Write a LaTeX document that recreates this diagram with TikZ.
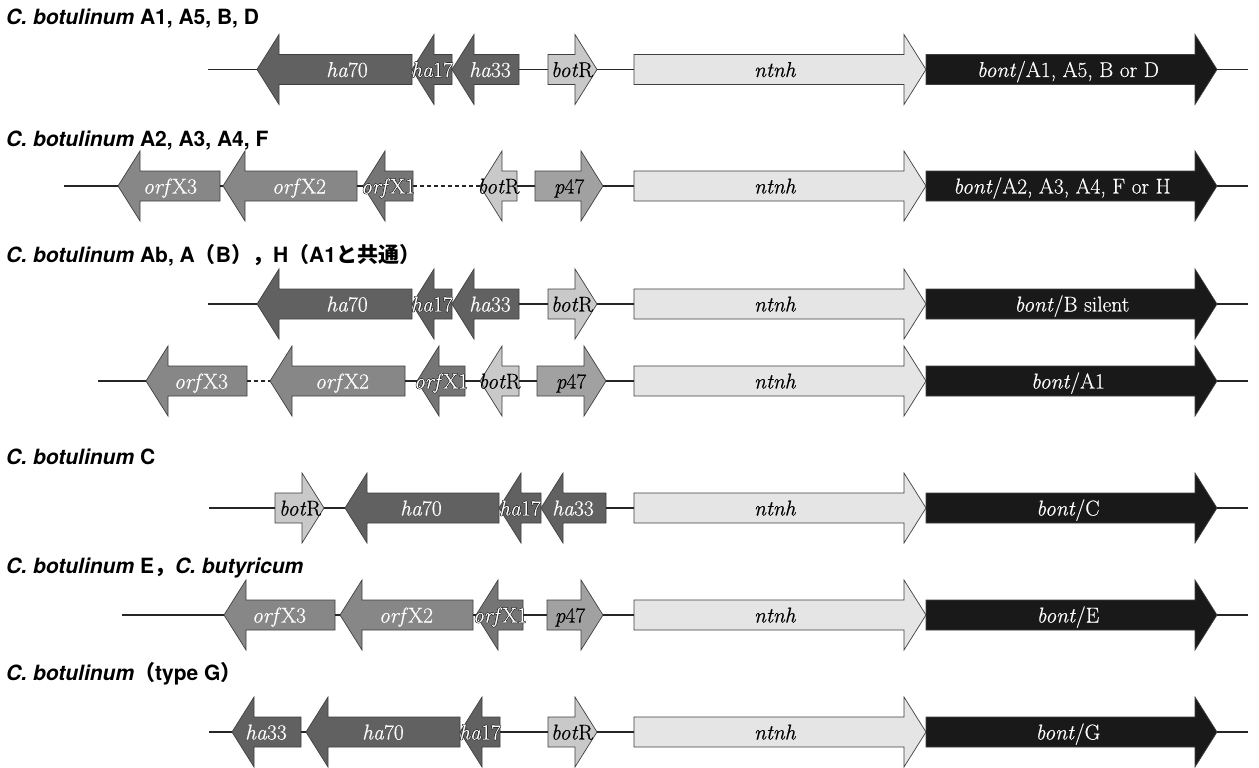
\documentclass[tikz,border=0pt]{standalone}
\usepackage{fontspec}
\setmainfont{Latin Modern Roman}[FakeBold=0.4]
\newfontfamily\headfam{TeX Gyre Heros}
\newfontfamily\cjkfam{Noto Sans CJK JP}
\newcommand\headfont{\headfam\bfseries\fontsize{21}{24}\selectfont}
\newcommand\genefont{\fontsize{21.5}{25}\selectfont}
\newcommand\spname[1]{{\itshape #1}}
\newcommand\cj[1]{{\cjkfam\bfseries #1}}

% white letters with a thin dark rim around them
\newsavebox\halobox
\newcommand\rimtext[1]{%
  \setbox\halobox=\hbox{#1}%
  {\color{black!85}%
   \rlap{\kern.5pt\copy\halobox}\rlap{\kern-.5pt\copy\halobox}%
   \rlap{\raise.5pt\hbox{\copy\halobox}}\rlap{\lower.5pt\hbox{\copy\halobox}}%
   \rlap{\kern.35pt\raise.35pt\hbox{\copy\halobox}}\rlap{\kern-.35pt\raise.35pt\hbox{\copy\halobox}}%
   \rlap{\kern.35pt\lower.35pt\hbox{\copy\halobox}}\rlap{\kern-.35pt\lower.35pt\hbox{\copy\halobox}}}%
  {\color{white}\copy\halobox}}

% arrow geometry: half body height, half head height, head length
\def\bh{15}
\def\hh{35}
\def\hl{22}

% gene pointing right: name, left x, right x, y, kind, label x, label
\newcommand\gright[7]{%
  \path[#5] (#2,#4-\bh) -- (#3-\hl,#4-\bh) -- (#3-\hl,#4-\hh) -- (#3,#4)
    -- (#3-\hl,#4+\hh) -- (#3-\hl,#4+\bh) -- (#2,#4+\bh) -- cycle;
  \coordinate (#1-w) at (#2,#4);
  \coordinate (#1-e) at (#3,#4);
  \node[lbl, #5 text] (#1) at (#6,#4) {#7};}
% gene pointing left
\newcommand\gleft[7]{%
  \path[#5] (#3,#4-\bh) -- (#2+\hl,#4-\bh) -- (#2+\hl,#4-\hh) -- (#2,#4)
    -- (#2+\hl,#4+\hh) -- (#2+\hl,#4+\bh) -- (#3,#4+\bh) -- cycle;
  \coordinate (#1-w) at (#2,#4);
  \coordinate (#1-e) at (#3,#4);
  \node[lbl, #5 text] (#1) at (#6,#4) {#7};}

\definecolor{haC}{gray}{0.38}
\definecolor{orfC}{gray}{0.53}
\definecolor{orfoneC}{gray}{0.46}
\definecolor{botC}{gray}{0.79}
\definecolor{pC}{gray}{0.63}
\definecolor{ntC}{gray}{0.90}
\definecolor{boC}{gray}{0.10}
\definecolor{edgeC}{gray}{0.25}

\tikzset{
  genebox/.style={draw=edgeC, line width=0.7pt},
  ha/.style={genebox, fill=haC},
  orf/.style={genebox, fill=orfC},
  orfone/.style={genebox, fill=orfoneC},
  bot/.style={genebox, fill=botC},
  pf/.style={genebox, fill=pC},
  nt/.style={genebox, fill=ntC},
  bo/.style={genebox, fill=boC},
  ha text/.style={text=white},
  orf text/.style={text=white},
  orfone text/.style={text=white},
  bot text/.style={text=black},
  pf text/.style={text=black},
  nt text/.style={text=black},
  bo text/.style={text=white},
  lbl/.style={inner sep=0pt, text height=15pt, text depth=0pt, font=\genefont},
  bb/.style={line width=1.1pt, draw=black!85},
  gapline/.style={bb, dash pattern=on 4pt off 3pt},
  heading/.style={anchor=base west, inner sep=0pt, font=\headfont},
}

\begin{document}
\begin{tikzpicture}[x=1pt, y=-1pt]
\fill[white] (0,0) rectangle (1259,768);
\useasboundingbox (0,0) rectangle (1259,768);

\def\yA{69.5}
\def\yB{186}
\def\yC{304}
\def\yD{381}
\def\yE{508}
\def\yF{615}
\def\yG{732}

% headings
\node[heading] (hA) at (6,25) {\spname{C. botulinum} A1, A5, B, D};
\node[heading] (hB) at (6,146) {\spname{C. botulinum} A2, A3, A4, F};
\node[heading] (hC) at (6,262) {\spname{C. botulinum} Ab, A\cj{（}B\cj{），}H\cj{（}A1\cj{と共通）}};
\node[heading] (hE) at (6,464) {\spname{C. botulinum} C};
\node[heading] (hF) at (6,573) {\spname{C. botulinum} E\cj{，}\spname{C. butyricum}};
\node[heading] (hG) at (6,680) {\spname{C. botulinum}\cj{（}type G\cj{）}};

% row A: A1, A5, B, D
\coordinate (sA) at (208,\yA);
\coordinate (eA) at (1248,\yA);
\gleft{haA70}{257}{412}{\yA}{ha}{347}{\textit{ha}70}
\gleft{haA17}{412}{452}{\yA}{ha}{432}{\rimtext{\textit{ha}17}}
\gleft{haA33}{452}{519}{\yA}{ha}{490}{\textit{ha}33}
\gright{botA}{548}{597}{\yA}{bot}{572}{\textit{bot}R}
\gright{ntA}{634}{926}{\yA}{nt}{775}{\textit{ntnh}}
\gright{boA}{926}{1217}{\yA}{bo}{1068}{\textit{bont}/A1, A5, B or D}

% row B: A2, A3, A4, F
\coordinate (sB) at (64,\yB);
\coordinate (eB) at (1248,\yB);
\gleft{xB3}{118}{220}{\yB}{orf}{170}{\textit{orf}X3}
\gleft{xB2}{223}{357}{\yB}{orf}{299}{\textit{orf}X2}
\gleft{xB1}{363}{413}{\yB}{orfone}{388}{\rimtext{\textit{orf}X1}}
\gleft{botB}{480}{517}{\yB}{bot}{498.5}{\textit{bot}R}
\gright{pB}{535}{603}{\yB}{pf}{569}{\textit{p}47}
\gright{ntB}{634}{926}{\yB}{nt}{775}{\textit{ntnh}}
\gright{boB}{926}{1217}{\yB}{bo}{1062}{\textit{bont}/A2, A3, A4, F or H}

% row C: Ab, A(B), H -- first locus
\coordinate (sC) at (208,\yC);
\coordinate (eC) at (1248,\yC);
\gleft{haC70}{257}{412}{\yC}{ha}{347}{\textit{ha}70}
\gleft{haC17}{412}{452}{\yC}{ha}{432}{\rimtext{\textit{ha}17}}
\gleft{haC33}{452}{519}{\yC}{ha}{490}{\textit{ha}33}
\gright{botC}{548}{597}{\yC}{bot}{572}{\textit{bot}R}
\gright{ntC}{634}{926}{\yC}{nt}{775}{\textit{ntnh}}
\gright{boC}{926}{1217}{\yC}{bo}{1072}{\textit{bont}/B silent}

% row D: Ab, A(B), H -- second locus
\coordinate (sD) at (98,\yD);
\coordinate (eD) at (1248,\yD);
\gleft{xD3}{146}{247}{\yD}{orf}{201}{\textit{orf}X3}
\gleft{xD2}{270}{405}{\yD}{orf}{342}{\textit{orf}X2}
\gleft{xD1}{417}{465}{\yD}{orfone}{441}{\rimtext{\textit{orf}X1}}
\gleft{botD}{480}{519}{\yD}{bot}{499.5}{\textit{bot}R}
\gright{pD}{537}{606}{\yD}{pf}{571}{\textit{p}47}
\gright{ntD}{634}{926}{\yD}{nt}{775}{\textit{ntnh}}
\gright{boD}{926}{1217}{\yD}{bo}{1068}{\textit{bont}/A1}

% row E: C
\coordinate (sE) at (209,\yE);
\coordinate (eE) at (1248,\yE);
\gright{botE}{275}{324}{\yE}{bot}{300}{\textit{bot}R}
\gleft{haE70}{345}{499}{\yE}{ha}{421}{\textit{ha}70}
\gleft{haE17}{499}{541}{\yE}{ha}{520}{\rimtext{\textit{ha}17}}
\gleft{haE33}{541}{606}{\yE}{ha}{573}{\textit{ha}33}
\gright{ntE}{634}{926}{\yE}{nt}{775}{\textit{ntnh}}
\gright{boE}{926}{1217}{\yE}{bo}{1068}{\textit{bont}/C}

% row F: E, C. butyricum
\coordinate (sF) at (122,\yF);
\coordinate (eF) at (1248,\yF);
\gleft{xF3}{224}{335}{\yF}{orf}{279}{\textit{orf}X3}
\gleft{xF2}{340}{473}{\yF}{orf}{406}{\textit{orf}X2}
\gleft{xF1}{476}{523}{\yF}{orfone}{500}{\rimtext{\textit{orf}X1}}
\gright{pF}{547}{603}{\yF}{pf}{570}{\textit{p}47}
\gright{ntF}{634}{926}{\yF}{nt}{775}{\textit{ntnh}}
\gright{boF}{926}{1217}{\yF}{bo}{1068}{\textit{bont}/E}

% row G: type G
\coordinate (sG) at (209,\yG);
\coordinate (eG) at (1248,\yG);
\gleft{haG33}{232}{301}{\yG}{ha}{266}{\textit{ha}33}
\gleft{haG70}{306}{460}{\yG}{ha}{383}{\textit{ha}70}
\gleft{haG17}{460}{500}{\yG}{ha}{480}{\rimtext{\textit{ha}17}}
\gright{botG}{548}{597}{\yG}{bot}{572}{\textit{bot}R}
\gright{ntG}{634}{926}{\yG}{nt}{775}{\textit{ntnh}}
\gright{boG}{926}{1217}{\yG}{bo}{1068}{\textit{bont}/G}

% backbone segments between genes
\draw[bb] (sA) -- (haA70-w) (haA33-e) -- (botA-w) (botA-e) -- (ntA-w) (boA-e) -- (eA);
\draw[bb] (sB) -- (xB3-w) (xB3-e) -- (xB2-w) (xB2-e) -- (xB1-w) (botB-e) -- (pB-w) (pB-e) -- (ntB-w) (boB-e) -- (eB);
\draw[gapline] (xB1-e) -- (botB-w);
\draw[bb] (sC) -- (haC70-w) (haC33-e) -- (botC-w) (botC-e) -- (ntC-w) (boC-e) -- (eC);
\draw[bb] (sD) -- (xD3-w) (xD2-e) -- (xD1-w) (xD1-e) -- (botD-w) (botD-e) -- (pD-w) (pD-e) -- (ntD-w) (boD-e) -- (eD);
\draw[gapline] (xD3-e) -- (xD2-w);
\draw[bb] (sE) -- (botE-w) (botE-e) -- (haE70-w) (haE33-e) -- (ntE-w) (boE-e) -- (eE);
\draw[bb] (sF) -- (xF3-w) (xF3-e) -- (xF2-w) (xF2-e) -- (xF1-w) (xF1-e) -- (pF-w) (pF-e) -- (ntF-w) (boF-e) -- (eF);
\draw[bb] (sG) -- (haG33-w) (haG33-e) -- (haG70-w) (haG17-e) -- (botG-w) (botG-e) -- (ntG-w) (boG-e) -- (eG);
\end{tikzpicture}
\end{document}
